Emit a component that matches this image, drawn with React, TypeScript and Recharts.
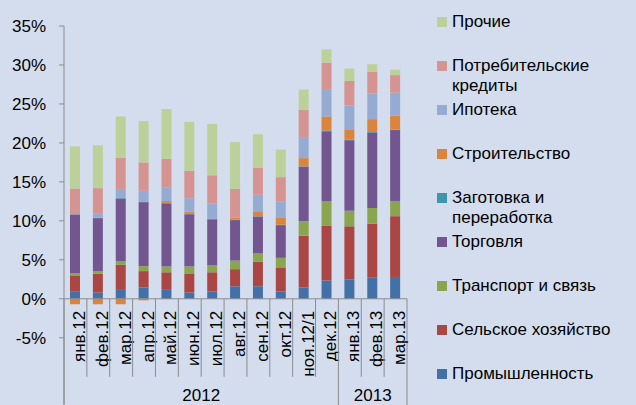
import React from "react";
import { BarChart, Bar, XAxis, YAxis, ReferenceLine } from "recharts";

const months = [
  "янв.12", "фев.12", "мар.12", "апр.12", "май.12", "июн.12", "июл.12", "авг.12",
  "сен.12", "окт.12", "ноя.12/1", "дек.12", "янв.13", "фев.13", "мар.13",
];
const yearLabels = ["2012", "2013"];
const yearSpans = [12, 3];
const yTicks = [-5, 0, 5, 10, 15, 20, 25, 30, 35];

const industry = [0.9, 0.8, 1.25, 1.45, 1.15, 0.8, 0.95, 1.6, 1.6, 0.95, 1.45, 2.35, 2.5, 2.7, 2.8];
const agriculture = [2.1, 2.4, 3.1, 2.1, 2.25, 2.45, 2.45, 2.2, 3.15, 3.0, 6.65, 7.0, 6.8, 6.95, 7.8];
const transport = [0.3, 0.35, 0.5, 0.65, 0.75, 0.9, 0.9, 1.1, 1.05, 1.3, 1.85, 3.15, 2.0, 2.0, 1.95];
const trade = [7.5, 6.8, 8.0, 8.2, 8.1, 6.7, 5.9, 5.2, 4.75, 4.2, 7.0, 9.0, 9.05, 9.7, 9.1];
const procurement = [0.05, 0.05, 0.1, 0.05, 0.05, 0.05, 0.05, 0.05, 0.05, 0.05, 0.05, 0.1, 0.05, 0.05, 0.05];
const construction = [-0.7, -0.7, -0.7, -0.2, 0.25, 0.3, 0, 0.25, 0.55, 0.95, 1.05, 1.8, 1.35, 1.65, 1.8];
const mortgage = [0, 0.5, 1.15, 1.4, 1.7, 1.7, 2.0, 0, 2.2, 2.05, 2.6, 3.4, 3.05, 3.3, 2.95];
const consumer = [3.3, 3.3, 4.0, 3.65, 3.7, 3.5, 3.6, 3.7, 3.45, 3.1, 3.6, 3.5, 3.15, 2.8, 2.25];
const other = [5.4, 5.5, 5.3, 5.3, 6.4, 6.3, 6.6, 6.0, 4.3, 3.55, 2.6, 1.7, 1.6, 0.95, 0.7];

// bottom-to-top stacking order
const series = [
  { key: "industry", name: "Промышленность", color: "#4470A8", values: industry },
  { key: "agriculture", name: "Сельское хозяйство", color: "#AA4643", values: agriculture },
  { key: "transport", name: "Транспорт и связь", color: "#8BA54E", values: transport },
  { key: "trade", name: "Торговля", color: "#735690", values: trade },
  { key: "procurement", name: "Заготовка и переработка", color: "#3D96AE", values: procurement },
  { key: "construction", name: "Строительство", color: "#DD843C", values: construction },
  { key: "mortgage", name: "Ипотека", color: "#95ABD2", values: mortgage },
  { key: "consumer", name: "Потребительские кредиты", color: "#D59392", values: consumer },
  { key: "other", name: "Прочие", color: "#BBD199", values: other },
];

const data = months.map((m, i) => {
  const row: Record<string, string | number> = { month: m };
  series.forEach((s) => (row[s.key] = s.values[i]));
  return row;
});

const W = 636;
const H = 405;
const BG = "#D3DDEE";
const AXIS = "#8C8C8C";
const xAxisHeight = 1;
const margin = { top: 26, right: 229, bottom: 0, left: 4 };
const yAxisWidth = 60;
const yMin = -13.5;
const yMax = 35;
const plotLeft = margin.left + yAxisWidth;
const plotRight = W - margin.right;
const plotTop = margin.top;
const plotBottom = H - margin.bottom - xAxisHeight;
const band = (plotRight - plotLeft) / months.length;
const zeroY = plotTop + ((yMax - 0) / (yMax - yMin)) * (plotBottom - plotTop);

const yearStart = yearSpans.map((_, i) => yearSpans.slice(0, i).reduce((a, b) => a + b, 0));

function CategoryTick(props: any) {
  const { x, payload } = props;
  const index: number = payload.index;
  const left = x - band / 2;
  const gi = yearStart.indexOf(index);
  const isLast = index === months.length - 1;
  return (
    <g>
      <line
        x1={left}
        x2={left}
        y1={zeroY}
        y2={gi >= 0 ? H : zeroY + 78}
        stroke={AXIS}
        strokeWidth={1}
      />
      {isLast && (
        <line x1={left + band} x2={left + band} y1={zeroY} y2={H} stroke={AXIS} strokeWidth={1} />
      )}
      <text
        transform={`translate(${x + 4},${zeroY + 12}) rotate(-90)`}
        textAnchor="end"
        dominantBaseline="central"
        fontSize={17}
        fill="#000"
      >
        {payload.value}
      </text>
      {gi >= 0 && (
        <text
          x={left + (yearSpans[gi] * band) / 2}
          y={H - 4}
          textAnchor="middle"
          fontSize={17}
          fill="#000"
        >
          {yearLabels[gi]}
        </text>
      )}
    </g>
  );
}

const legendItems = [...series].reverse();

export default function App() {
  return (
    <div
      style={{
        position: "relative",
        width: W,
        height: H,
        background: BG,
        overflow: "hidden",
        fontFamily: "'Liberation Sans', Arial, sans-serif",
      }}
    >
      <style>{`body{margin:0}`}</style>
      <BarChart width={W} height={H} data={data} margin={margin} stackOffset="sign">
        <XAxis
          dataKey="month"
          height={xAxisHeight}
          interval={0}
          axisLine={false}
          tickLine={false}
          tick={(p: any) => <CategoryTick {...p} />}
        />
        <YAxis
          width={yAxisWidth}
          type="number"
          domain={[yMin, yMax]}
          ticks={yTicks}
          interval={0}
          tickFormatter={(v: number) => `${v}%`}
          tick={{ fontSize: 17, fill: "#000" }}
          tickSize={5}
          tickMargin={13}
          stroke={AXIS}
        />
        <ReferenceLine y={0} stroke={AXIS} strokeWidth={1} />
        {series.map((s) => (
          <Bar
            key={s.key}
            dataKey={s.key}
            name={s.name}
            stackId="a"
            fill={s.color}
            barSize={10}
            isAnimationActive={false}
          />
        ))}
      </BarChart>
      {legendItems.map((s, i) => (
        <div
          key={s.key}
          style={{
            position: "absolute",
            left: 437,
            top: 12 + 44 * i,
            width: 199,
            display: "flex",
            alignItems: "flex-start",
            fontSize: 17,
            lineHeight: "20px",
            color: "#000",
          }}
        >
          <span
            style={{
              display: "inline-block",
              width: 10,
              height: 10,
              marginTop: 5,
              marginRight: 5,
              background: s.color,
              flex: "none",
            }}
          />
          <span style={{ width: 184 }}>{s.name}</span>
        </div>
      ))}
    </div>
  );
}
